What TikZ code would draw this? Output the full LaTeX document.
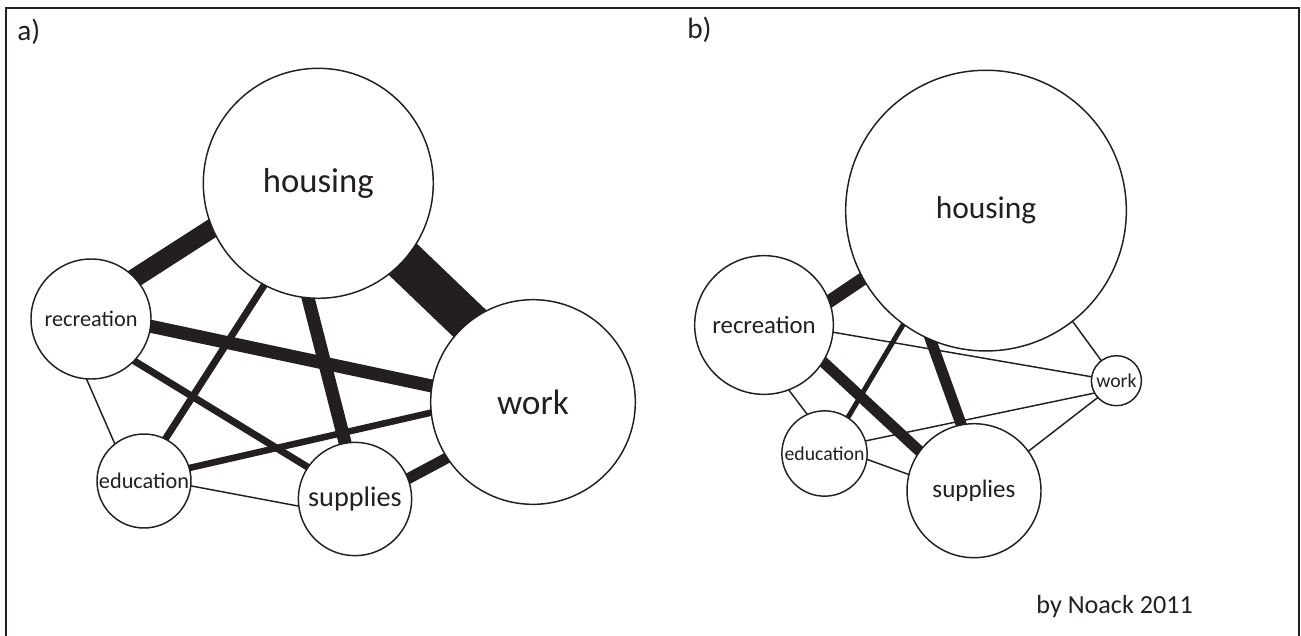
\documentclass[tikz,border=0pt]{standalone}
\usepackage{fontspec}
\setmainfont{Carlito}
\definecolor{ink}{RGB}{35,31,32}
\pgfdeclarelayer{bg}
\pgfsetlayers{bg,main}
\begin{document}
\begin{tikzpicture}[x=0.75pt,y=-0.75pt,
  circ/.style={circle, draw=ink, line width=1.1pt, fill=white, inner sep=0pt, text=ink},
  edge/.style={draw=ink, line cap=butt, shorten <=-6pt, shorten >=-6pt},
  thinedge/.style={line width=1.1pt},
  lbl/.style={inner sep=0pt, text=ink, font=\fontsize{22}{24}\selectfont}]
\useasboundingbox (0,0) rectangle (1301,635);
% frame
\draw[ink, line width=1.5pt] (6,645) -- (6,8) -- (1299,8) -- (1299,645);
\node[lbl, anchor=west] (la) at (17,32) {a)};
\node[lbl, anchor=west] (lb) at (687,30) {b)};
\node[lbl, font=\fontsize{19.6}{21}\selectfont] (cr) at (1114.6,606.5) {by Noack 2011};
% panel a nodes
\node[circ, minimum size=172.5pt, font=\fontsize{26}{28}\selectfont] (ha) at (318.3,183.3) {housing};
\node[circ, minimum size=90pt, font=\fontsize{16.7}{18}\selectfont] (ra) at (91,319) {recreation};
\node[circ, minimum size=153.5pt, font=\fontsize{26.5}{28}\selectfont] (wa) at (533,402) {work};
\node[circ, minimum size=70.5pt, font=\fontsize{16.7}{18}\selectfont] (ea) at (144,481) {education};
\node[circ, minimum size=85pt, font=\fontsize{21.2}{23}\selectfont] (sa) at (355,499) {supplies};
% panel b nodes
\node[circ, minimum size=210.5pt, font=\fontsize{23.6}{25}\selectfont] (hb) at (986,210.6) {housing};
\node[circ, minimum size=104pt, font=\fontsize{18.6}{20}\selectfont] (rb) at (764,325) {recreation};
\node[circ, minimum size=37.5pt, font=\fontsize{14.8}{16}\selectfont] (wb) at (1116.4,380.7) {work};
\node[circ, minimum size=64pt, font=\fontsize{14.8}{16}\selectfont] (eb) at (824.5,453.5) {education};
\node[circ, minimum size=100.5pt, font=\fontsize{18.8}{20}\selectfont] (sb) at (974,490.7) {supplies};
\begin{pgfonlayer}{bg}
% panel a edges
\draw[edge, line width=14.25pt] (ra.43.4) -- (ha.203.5);
\draw[edge, line width=31.5pt] (ha.-42) -- (wa.129.7);
\draw[edge, line width=9.75pt] (ra.-7.9) -- (wa.171.7);
\draw[edge, line width=9.75pt] (ha.265.8) -- (sa.100.5);
\draw[edge, line width=5.25pt] (ha.242.4) -- (ea.63);
\draw[edge, line width=5.25pt] (ra.-44.8) -- (sa.146.2);
\draw[edge, line width=4.9pt] (ea.16.4) -- (wa.186);
\draw[edge, line width=8.25pt] (sa.21.4) -- (wa.213.9);
\draw[edge, thinedge] (ra.266.5) -- (ea.128.9);
\draw[edge, thinedge] (ea.-6.6) -- (sa.187);
% panel b edges
\draw[edge, line width=9.75pt] (rb.20.7) -- (hb.209.6);
\draw[edge, line width=3.75pt] (hb.234.5) -- (eb.57.2);
\draw[edge, line width=8.25pt] (hb.247.2) -- (sb.101.7);
\draw[edge, line width=8.25pt] (rb.-32.1) -- (sb.144.6);
\draw[edge, thinedge] (rb.-6.2) -- (wb.171);
\draw[edge, thinedge] (hb.-52.6) -- (wb.127.6);
\draw[edge, thinedge] (eb.17.1) -- (wb.209.3);
\draw[edge, thinedge] (sb.36) -- (wb.222);
\draw[edge, thinedge] (rb.291.8) -- (eb.114.8);
\draw[edge, thinedge] (eb.-8.4) -- (sb.166.6);
\end{pgfonlayer}
\end{tikzpicture}
\end{document}
